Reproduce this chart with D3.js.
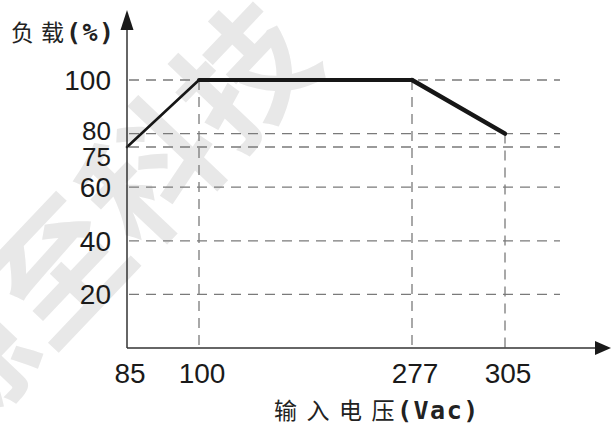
<!DOCTYPE html>
<html>
<head>
<meta charset="utf-8">
<script src="https://cdn.jsdelivr.net/npm/d3@7"></script>
<style>
    html, body { margin: 0; padding: 0; background: #fff; }
    svg { display: block; }
    .grid { stroke: #7a7a7a; stroke-width: 1.3; stroke-dasharray: 10 7; fill: none; }
    .axe { stroke: #333; stroke-width: 1.5; fill: none; }
    .tick-label { font-family: "Liberation Sans", Arial, sans-serif; font-size: 28px; fill: #1a1a1a; }
    .titre { font-family: "Noto Sans CJK SC", sans-serif; font-size: 23px; fill: #222; }
    .titre .latin { font-family: "DejaVu Sans Mono", monospace; font-weight: bold; font-size: 25px; }
</style>
</head>
<body>
<svg id="chart" width="611" height="427"></svg>
<script>
// ====================================
// Données de la courbe de déclassement
// ====================================
const tensions = [85, 100, 277, 305];      // Vac
const charges = [75, 100, 100, 80];        // %
const ticksX = [85, 100, 277, 305];
const ticksY = [20, 40, 60, 75, 80, 100];
const titreX = ["输入电压", "(Vac)"];
const titreY = ["负载", "(%)"];
const filigrane = ["源", "至", "科", "技"];

// Mise en page
const width = 611, height = 427;
const origine = { x: 127, y: 348 };
const xPixels = [127, 199, 412, 505];      // axe X non linéaire (par morceaux)
const gridEnd = 560;

const svg = d3.select("#chart");

// échelle X par morceaux, échelle Y linéaire
const x = d3.scaleLinear().domain(ticksX).range(xPixels);
const y = d3.scaleLinear().domain([0, 100]).range([origine.y, 80]);

/**
 * Filigrane gris en diagonale
 */
function drawWatermark(g) {
    g.append("text")
        .attr("transform", "translate(-44,450) rotate(-46.5)")
        .attr("font-family", "Noto Sans CJK SC")
        .attr("font-weight", "bold")
        .attr("font-size", 132)
        .attr("letter-spacing", 3)
        .attr("fill", "#e8e8e8")
        .text(filigrane.join(""));
}

/**
 * Grille pointillée
 */
function drawGrid(g) {
    // lignes horizontales
    g.selectAll(".grid-h")
        .data(ticksY)
        .join("line")
        .attr("class", "grid grid-h")
        .attr("x1", origine.x + 2)
        .attr("x2", gridEnd)
        .attr("y1", d => y(d))
        .attr("y2", d => y(d));

    // lignes verticales : du point de la courbe jusqu'à l'axe
    const pts = tensions.map((t, i) => ({ t, c: charges[i] })).filter(d => d.t !== ticksX[0]);
    g.selectAll(".grid-v")
        .data(pts)
        .join("line")
        .attr("class", "grid grid-v")
        .attr("x1", d => x(d.t))
        .attr("x2", d => x(d.t))
        .attr("y1", d => y(d.c))
        .attr("y2", origine.y);
}

/**
 * Axes avec flèches
 */
function drawAxes(g) {
    g.append("line").attr("class", "axe")
        .attr("x1", origine.x).attr("y1", origine.y)
        .attr("x2", origine.x).attr("y2", 24);
    g.append("path")
        .attr("d", `M${origine.x},10 L${origine.x - 6.5},30 L${origine.x + 6.5},30 Z`)
        .attr("fill", "#1a1a1a");

    g.append("line").attr("class", "axe")
        .attr("x1", origine.x).attr("y1", origine.y)
        .attr("x2", 600).attr("y2", origine.y);
    g.append("path")
        .attr("d", `M611,${origine.y} L595,${origine.y - 7} L595,${origine.y + 7} Z`)
        .attr("fill", "#1a1a1a");

    // étiquettes serrées (80 / 75) : décalées et un peu plus petites
    const decalY = { 80: -4, 75: 9 };

    g.selectAll(".label-y")
        .data(ticksY)
        .join("text")
        .attr("class", "tick-label label-y")
        .attr("text-anchor", "end")
        .attr("x", 111)
        .attr("y", d => y(d) + 10 + (decalY[d] || 0))
        .style("font-size", d => decalY[d] ? "26px" : null)
        .text(d => d);

    g.selectAll(".label-x")
        .data(ticksX)
        .join("text")
        .attr("class", "tick-label label-x")
        .attr("text-anchor", "middle")
        .attr("x", d => x(d) + 3)
        .attr("y", 383)
        .text(d => d);
}

/**
 * Un titre : caractères chinois espacés un à un, puis la partie latine en gras
 * @private
 */
function drawTitle(g, parts, x0, y0, pas, xLatin) {
    const t = g.append("text").attr("class", "titre").attr("y", y0);
    Array.from(parts[0]).forEach((c, i) => {
        t.append("tspan").attr("x", x0 + i * pas).text(c);
    });
    t.append("tspan").attr("class", "latin")
        .attr("x", xLatin)
        .attr("letter-spacing", 1.5)
        .text(parts[1]);
}

function drawTitles(g) {
    drawTitle(g, titreY, 11, 41, 30, 66);
    drawTitle(g, titreX, 274, 419, 32.5, 397);
}

/**
 * Courbe de charge, un segment à la fois (épaisseurs différentes)
 */
function drawCurve(g) {
    const epaisseurs = [2.6, 3.8, 4.4];
    const segments = d3.pairs(tensions.map((t, i) => [t, charges[i]]));
    g.selectAll(".seg")
        .data(segments)
        .join("line")
        .attr("class", "seg")
        .attr("x1", d => x(d[0][0]))
        .attr("y1", d => y(d[0][1]))
        .attr("x2", d => x(d[1][0]))
        .attr("y2", d => y(d[1][1]))
        .attr("stroke", "#161616")
        .attr("stroke-width", (d, i) => epaisseurs[i])
        .attr("stroke-linecap", "round");
}

drawWatermark(svg.append("g"));
drawGrid(svg.append("g"));
drawCurve(svg.append("g"));
drawAxes(svg.append("g"));
drawTitles(svg.append("g"));
</script>
</body>
</html>
